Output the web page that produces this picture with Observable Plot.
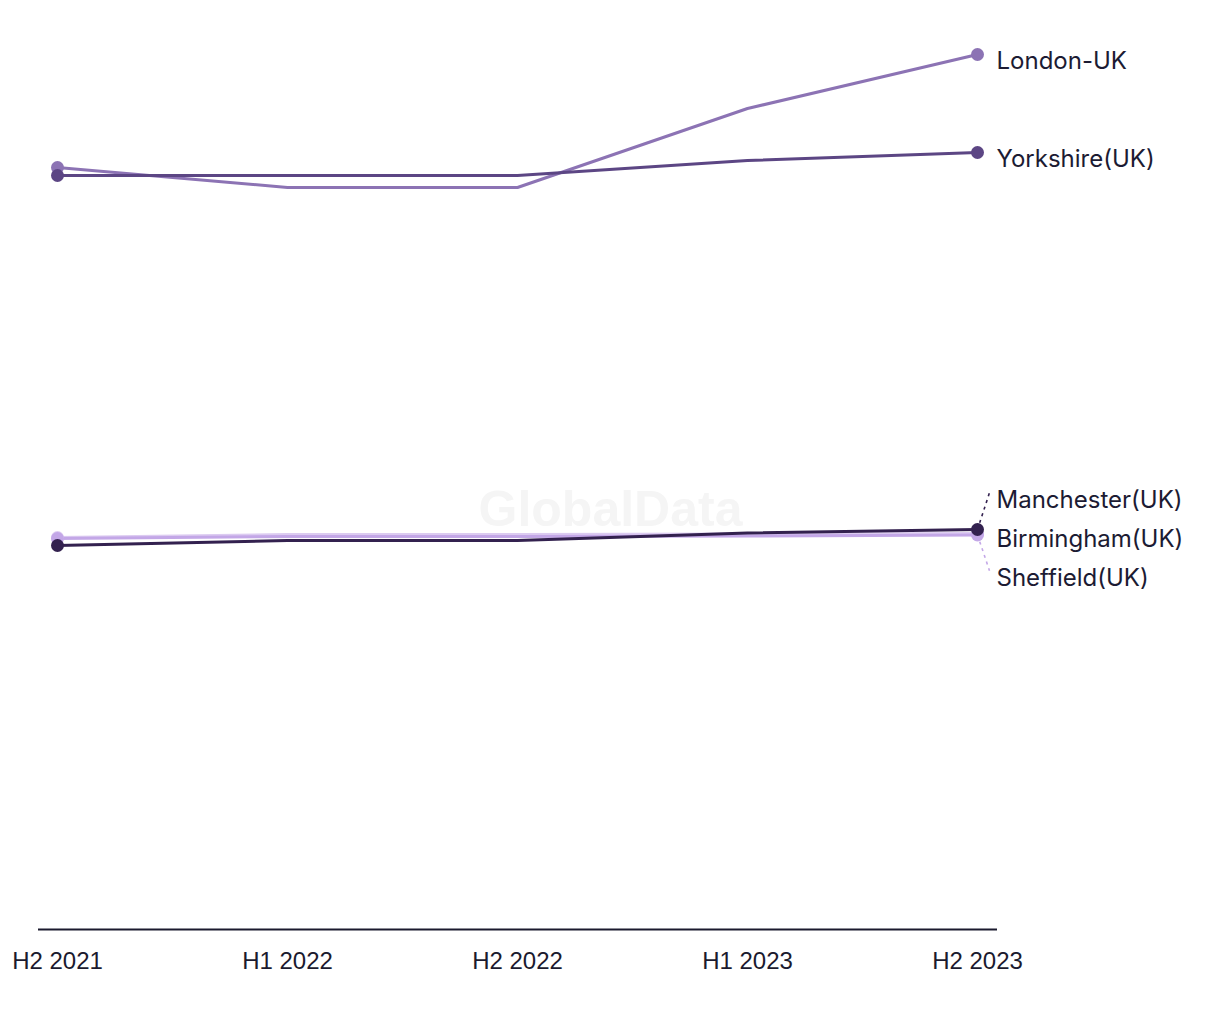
<!DOCTYPE html>
<html>
<head>
<meta charset="utf-8">
<script src="https://cdn.jsdelivr.net/npm/d3@7"></script>
<script src="https://cdn.jsdelivr.net/npm/@observablehq/plot@0.6"></script>
<style>
  html, body { margin: 0; padding: 0; background: #ffffff; }
  #chart { width: 1220px; height: 1020px; }
  #chart svg { display: block; }
</style>
</head>
<body>
<div id="chart"></div>
<script>
// ---- Data ----
const periods = ["H2 2021", "H1 2022", "H2 2022", "H1 2023", "H2 2023"];
const seriesNames = ["London-UK", "Yorkshire(UK)", "Birmingham(UK)", "Sheffield(UK)", "Manchester(UK)"];
const london     = [7.62, 7.42, 7.42, 8.21, 8.75];
const yorkshire  = [7.54, 7.54, 7.54, 7.69, 7.77];
const birmingham = [3.92, 3.95, 3.95, 3.955, 3.96];
const sheffield  = [3.91, 3.93, 3.93, 3.935, 3.945];
const manchester = [3.84, 3.89, 3.89, 3.965, 4.00];
const seriesColors = ["#8c73b4", "#5c4684", "#dccbf1", "#c3a7e7", "#33214f"];

const seriesValues = [london, yorkshire, birmingham, sheffield, manchester];
const rows = [];
seriesNames.forEach((s, k) => {
  seriesValues[k].forEach((v, i) => rows.push({s, i, v}));
});
const endRows = rows.filter(d => d.i === 0 || d.i === periods.length - 1);

// ---- Layout ----
const W = 1220, H = 1020;
const mTop = 20, mBottom = 91, mLeft = 38, mRight = 223;
const yDomain = [0, 9.09];
const xDomain = [-19 / 230, 4 + 20 / 230];
const yS = Plot.scale({y: {domain: yDomain, range: [H - mBottom, mTop]}});

// Label dodging (in pixels), then back to data units
const lastIdx = periods.length - 1;
const gap = 39;
const labelItems = seriesNames.map((s, k) => {
  const v = seriesValues[k][lastIdx];
  return {s, v, want: yS.apply(v) + 6.5};
}).sort((a, b) => a.want - b.want);
let groups = labelItems.map(d => ({items: [d], center: d.want}));
let merged = true;
while (merged) {
  merged = false;
  for (let g = 1; g < groups.length; g++) {
    const p = groups[g - 1], c = groups[g];
    const pBottom = p.center + (p.items.length - 1) * gap / 2;
    const cTop = c.center - (c.items.length - 1) * gap / 2;
    if (cTop - pBottom < gap) {
      const items = p.items.concat(c.items);
      groups.splice(g - 1, 2, {items, center: d3.mean(items, d => d.want)});
      merged = true;
      break;
    }
  }
}
groups.forEach(g => {
  g.items.forEach((d, j) => {
    d.px = g.center - (g.items.length - 1) * gap / 2 + j * gap;
    d.lv = yS.invert(d.px);
  });
});
const leaders = labelItems
  .filter(d => Math.abs(d.px - d.want) > 8)
  .map(d => ({s: d.s, v: d.v, ly: yS.invert(d.px - 7.5)}));

const chart = Plot.plot({
  width: W,
  height: H,
  marginTop: mTop,
  marginBottom: mBottom,
  marginLeft: mLeft,
  marginRight: mRight,
  style: {background: "#ffffff"},
  x: {type: "linear", domain: xDomain},
  y: {domain: yDomain, axis: null},
  color: {domain: seriesNames, range: seriesColors},
  marks: [
    Plot.text([0], {
      frameAnchor: "middle", text: () => "GlobalData",
      dx: 92.5, dy: 35, fontSize: 50, fontWeight: "bold",
      fontFamily: "Liberation Sans, Arial, sans-serif", fill: "#f5f5f5"
    }),
    Plot.ruleY([0], {stroke: "#1b1a2e", strokeWidth: 2}),
    Plot.axisX({
      ticks: periods.map((_, i) => i),
      tickFormat: i => periods[i],
      tickSize: 0, tickPadding: 22,
      fontSize: 24, fontFamily: "Liberation Sans, Arial, sans-serif",
      fill: "#1b1a2e", label: null
    }),
    Plot.line(rows, {x: "i", y: "v", z: "s", stroke: "s", strokeWidth: 3}),
    Plot.link(leaders, {
      x1: () => lastIdx, y1: "v", x2: () => lastIdx + 12 / 230, y2: "ly",
      stroke: "s", strokeWidth: 1.6, strokeDasharray: "3,4"
    }),
    Plot.dot(endRows, {x: "i", y: "v", fill: "s", r: 6.5}),
    Plot.text(labelItems, {
      x: () => lastIdx, y: "lv", text: "s", dx: 19, textAnchor: "start",
      fontSize: 24, fontFamily: "Inter, 'Noto Sans', sans-serif", fill: "#1c1b33"
    })
  ]
});
document.getElementById("chart").appendChild(chart);
</script>
</body>
</html>
